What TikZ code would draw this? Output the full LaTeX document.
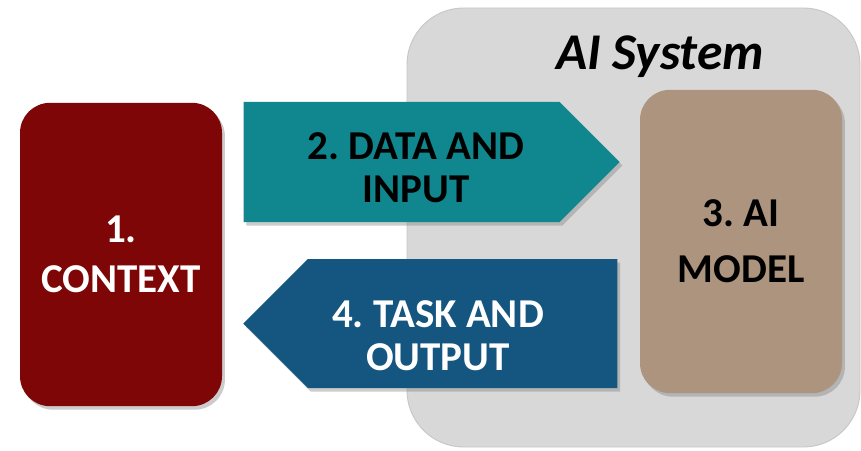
\documentclass[tikz,border=0pt]{standalone}
\usepackage{xcolor}
\usepackage{fontspec}
\setsansfont{Carlito}
\usepackage{tikz}
\usetikzlibrary{shapes.symbols, shadows, positioning}
\definecolor{ctxred}{HTML}{7F0606}
\definecolor{inteal}{HTML}{10878F}
\definecolor{outblue}{HTML}{14567F}
\definecolor{modeltan}{HTML}{AC947E}
\definecolor{sysgray}{HTML}{D8D8D8}
\frenchspacing

\begin{document}
\begin{tikzpicture}[
    card/.style={rectangle, rounded corners=0.9cm, minimum width=6.06cm, minimum height=9.1cm,
                 font=\sffamily\bfseries\fontsize{35}{38}\selectfont, align=center,
                 drop shadow={opacity=0.4, shadow xshift=2.5pt, shadow yshift=-3pt}},
    flow/.style={signal, signal pointer angle=90, inner sep=0pt,
                 drop shadow={opacity=0.4, shadow xshift=2.5pt, shadow yshift=-3pt}},
    lbl/.style={font=\sffamily\bfseries\fontsize{35}{36.5}\selectfont, align=center}
  ]
    \useasboundingbox (0,0) rectangle (25.83,13.5);

    % system frame
    \node[rectangle, rounded corners=1.7cm, fill=sysgray, draw=black!22, line width=0.8pt,
          minimum width=13.59cm, minimum height=13.17cm] (system) at (19.005, 6.675) {};
    \node[font=\sffamily\bfseries\itshape\fontsize{44}{48}\selectfont, anchor=base]
      (systitle) at (19.8, 11.4) {AI System};

    % the two flows (node centre sits in the body, the point sticks out)
    \node[flow, signal to=east, fill=inteal, minimum width=11.28cm, minimum height=3.6cm]
      (input) at (12.045, 8.64) {};
    \node[flow, signal to=west, fill=outblue, minimum width=11.22cm, minimum height=3.87cm]
      (output) at (13.875, 3.795) {};
    \node[lbl, text=black] (inlbl) at (12.48, 8.475) {2. DATA AND\\INPUT};
    \node[lbl, text=white] (outlbl) at (13.14, 3.42) {4. TASK AND\\OUTPUT};

    % end boxes
    \node[card, fill=ctxred, text=white] (context) at (3.63, 5.865) {1.\\[5pt]CONTEXT};
    \node[card, fill=modeltan, text=black] (model) at (22.23, 6.255) {3. AI\\[10pt]MODEL};
\end{tikzpicture}
\end{document}
